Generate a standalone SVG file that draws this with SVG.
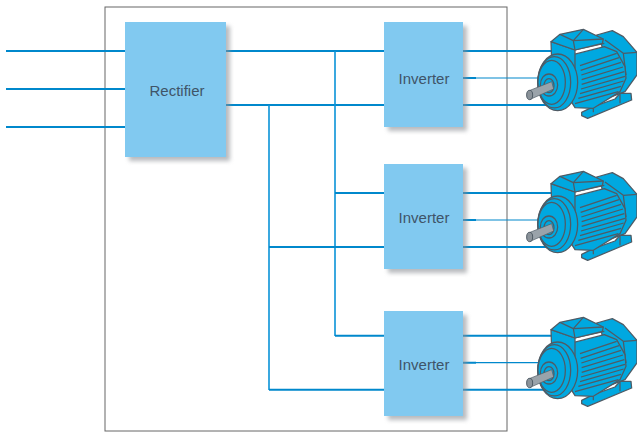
<svg xmlns="http://www.w3.org/2000/svg" width="637" height="432" viewBox="0 0 637 432">
<style>
.box{fill:#81c9f0}
.shadow{fill:#8a8f94;opacity:.6;filter:url(#blur)}
.lbl{font-family:"Liberation Sans",Arial,sans-serif;font-size:15px;fill:#3f5468;text-anchor:middle}
.w{fill:none;stroke:#0088cc;stroke-width:2}
.v{fill:none;stroke:#0a93d8;stroke-width:1.6}
.t{fill:none;stroke:#0088cc;stroke-width:1.2}
.m{fill:#00a8e0;stroke:#4f5b65;stroke-width:3.8;stroke-linejoin:round}
.n{fill:none;stroke:#4f5b65;stroke-width:3.8;stroke-linejoin:round}
</style>
<defs>
<filter id="blur" x="-20%" y="-20%" width="140%" height="140%"><feGaussianBlur stdDeviation="2"/></filter>
<g id="motor">
<g transform="translate(525,25) scale(.3333)">
<path class="m" d="M215 30 262 17 295 35 336 82 336 150 300 200 260 215 230 60Z"/>
<path class="n" d="M240 45 295 85 336 82M295 85 303 150"/>
<path class="m" d="M170 262 205 245 270 222 285 205 318 205 320 225 188 280 170 272Z"/>
<path class="n" d="M205 250V262M285 205V235"/>
<path class="m" d="M120 95 238 65 275 80 300 125 303 160 285 200 205 250 150 248 120 200Z"/>
<path class="n" d="M165 122 275 85M167 136 282 98M169 150 288 112M170 164 294 126M170 178 298 140M168 192 300 154M165 206 296 168M160 220 288 184M150 236 280 200"/>
<path class="m" d="M78 50 150 75 150 132 80 108Z"/>
<path class="n" d="M150 75 238 55"/>
<path class="m" d="M78 50 105 28 175 13 235 42 232 55 150 75Z"/>
<path class="n" d="M105 28 145 47 150 75M145 47 175 13M145 47 235 42"/>
<ellipse class="m" cx="98" cy="172" rx="60" ry="85"/>
<ellipse class="m" cx="88" cy="172" rx="49" ry="77"/>
<ellipse class="m" cx="80" cy="172" rx="41" ry="66"/>
<ellipse class="m" cx="72" cy="180" rx="26" ry="33"/>
<ellipse class="m" cx="72" cy="182" rx="15" ry="21"/>
<path d="M10 198 80 170 86 192 18 222Z" fill="#9aa3aa" stroke="#4f5b65" stroke-width="2"/>
<ellipse cx="14" cy="210" rx="9" ry="14" fill="#8a9299" stroke="#4f5b65" stroke-width="3"/>
</g>
</g>
</defs>
<rect x="105" y="7" width="402" height="424" fill="#fff" stroke="#666" stroke-width="1"/>
<g id="connectors">
<path class="w" d="M6 51H125M6 89H125M6 127H125"/>
<path class="w" d="M226 51H384M226 105H384"/>
<path class="v" d="M335 51V336M269 105V390"/>
<path class="w" d="M335 335.7H384M335 193H384"/>
<path class="w" d="M269 389.7H384M269 247H384"/>
<path class="w" d="M463 51H552M463 105H550M463 78H476"/>
<path class="t" d="M476 78H538"/>
<path class="w" d="M463 193H552M463 247H550M463 220H476"/>
<path class="t" d="M476 220H538"/>
<path class="w" d="M463 335.7H552M463 389.7H550M463 362.7H476"/>
<path class="t" d="M476 362.7H538"/>
</g>
<g id="rectifier"><rect class="shadow" x="129" y="26" width="101" height="135"/><rect class="box" x="125" y="22" width="101" height="135"/><text class="lbl" x="177" y="96">Rectifier</text></g>
<g id="inverter1"><rect class="shadow" x="388" y="26" width="79" height="105"/><rect class="box" x="384" y="22" width="79" height="105"/><text class="lbl" x="424" y="84">Inverter</text></g>
<g id="inverter2"><rect class="shadow" x="388" y="168" width="79" height="105"/><rect class="box" x="384" y="164" width="79" height="105"/><text class="lbl" x="424" y="223">Inverter</text></g>
<g id="inverter3"><rect class="shadow" x="388" y="315" width="79" height="105"/><rect class="box" x="384" y="311" width="79" height="105"/><text class="lbl" x="424" y="370">Inverter</text></g>
<g id="motor1"><use href="#motor"/></g>
<g id="motor2"><use href="#motor" y="142"/></g>
<g id="motor3"><use href="#motor" y="288"/></g>
</svg>
